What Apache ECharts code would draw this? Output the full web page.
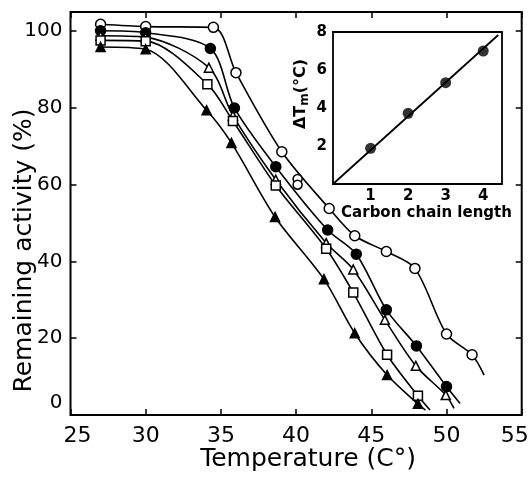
<!DOCTYPE html>
<html><head><meta charset="utf-8">
<script src="https://cdn.jsdelivr.net/npm/echarts@6/dist/echarts.min.js"></script>
<style>html,body{margin:0;padding:0;background:#fff}#c{width:528px;height:478px}</style>
</head><body><div id="c"></div>
<script>
// ---- data ----
const xTicks = [25, 30, 35, 40, 45, 50, 55];
const yTicks = [0, 20, 40, 60, 80, 100];
const openCircle = [[27,101.8],[30,101.2],[34.5,101.0],[36.0,89.2],[39.05,68.6],[42.2,53.8],[43.9,46.7],[46.0,42.6],[47.9,38.2],[50.0,21.1],[51.7,15.7]];
const openCircleTail = [[52.5,10.4]];
const filledCircle = [[27,100.1],[30,99.6],[34.3,95.5],[35.9,80.0],[38.65,64.7],[42.1,48.2],[44.0,41.9],[46.0,27.4],[48.0,18.0],[50.0,7.4]];
const filledCircleTail = [[50.9,3.0]];
const openTriangle = [[27,98.8],[30,98.4],[34.2,90.5],[35.8,78.0],[38.65,61.3],[42.0,44.8],[43.8,37.9],[45.9,24.8],[47.96,12.8],[49.95,5.2]];
const openTriangleTail = [[50.5,1.7]];
const openSquare = [[27,97.6],[30,97.4],[34.1,86.2],[35.8,76.6],[38.65,59.8],[42.0,43.3],[43.8,31.9],[46.05,15.7],[48.1,5.0]];
const openSquareTail = [[48.9,1.3]];
const filledTriangle = [[27,95.9],[30,95.3],[34.05,79.4],[35.7,70.9],[38.6,51.6],[41.85,35.4],[43.9,21.3],[46.05,10.4],[48.1,2.9]];
const filledTriangleTail = [[48.6,1.3]];
const extraOpenCircles = [[40.1,61.5],[40.1,60.0]];
const insetX = [1, 2, 3, 4];
const insetY = [1.88, 3.72, 5.33, 7.0];
const insetFit = [[0,0],[4.4,7.84]];
const insetXTicks = [1, 2, 3, 4];
const insetYTicks = [2, 4, 6, 8];

// ---- chart ----
const FONT = 'DejaVu Sans';
const chart = echarts.init(document.getElementById('c'), null, {renderer:'canvas'});
const curve = (d) => ({type:'line', xAxisIndex:0, yAxisIndex:0, data:d, smooth:0.3, showSymbol:false,
  lineStyle:{color:'#000', width:1.6}, silent:true, z:2});
const marks = (d, sym, filled, size) => ({type:'scatter', xAxisIndex:0, yAxisIndex:0, data:d, symbol:sym, symbolSize:size,
  itemStyle:{color: filled ? '#000' : '#fff', borderColor:'#000', borderWidth:1.5, opacity:1}, silent:true, z:3});
const tick = (len) => ({show:true, inside:true, length:len, lineStyle:{color:'#000', width:1.5}});
const noLine = {show:false, onZero:false};

const option = {
  animation:false,
  backgroundColor:'#fff',
  textStyle:{fontFamily:FONT},
  grid:[
    {left:70.5, right:6.3, top:12, bottom:63, show:true, borderColor:'#000', borderWidth:2, backgroundColor:'transparent', outerBoundsMode:'none', containLabel:false},
    {left:333, top:32, width:169, height:152, show:true, borderColor:'#000', borderWidth:1.8, backgroundColor:'#fff', z:1, outerBoundsMode:'none', containLabel:false}
  ],
  xAxis:[
    {gridIndex:0, type:'value', min:xTicks[0], max:xTicks[xTicks.length-1], interval:xTicks[1]-xTicks[0], position:'bottom',
     axisLine:noLine, splitLine:{show:false}, axisTick:tick(6),
     axisLabel:{color:'#000', fontSize:22, fontFamily:FONT, margin:10,
       formatter:(v)=> v===xTicks[0] ? '{a|'+v+'}' : (v===xTicks[xTicks.length-1] ? '{b|'+v+'}' : String(v)),
       rich:{a:{fontSize:22, fontFamily:FONT, color:'#000', padding:[0,0,0,14]}, b:{fontSize:22, fontFamily:FONT, color:'#000', padding:[0,14,0,0]}}},
     name:'Temperature (C°)', nameLocation:'middle', nameGap:32, nameMoveOverlap:false,
     nameTextStyle:{color:'#000', fontSize:25, fontFamily:FONT, padding:[0,0,0,24], verticalAlign:'top'}},
    {gridIndex:0, type:'value', min:xTicks[0], max:xTicks[xTicks.length-1], interval:xTicks[1]-xTicks[0], position:'top',
     axisLine:noLine, splitLine:{show:false}, axisLabel:{show:false}, axisTick:tick(6)},
    {gridIndex:1, type:'value', min:0, max:4.5, interval:1, position:'bottom',
     axisLine:noLine, splitLine:{show:false}, axisTick:{show:false},
     axisLabel:{color:'#000', fontSize:15, fontWeight:'bold', fontFamily:FONT, margin:5,
       formatter:(v)=> insetXTicks.includes(v) ? String(v) : ''},
     name:'Carbon chain length', nameLocation:'middle', nameGap:22,
     nameTextStyle:{color:'#000', fontSize:15, fontWeight:'bold', fontFamily:FONT, padding:[0,0,0,18]}}
  ],
  yAxis:[
    {gridIndex:0, type:'value', min:yTicks[0], max:105, interval:yTicks[1]-yTicks[0], position:'left',
     axisLine:noLine, splitLine:{show:false}, axisTick:tick(6),
     axisLabel:{color:'#000', fontSize:20, fontFamily:FONT, margin:8,
       formatter:(v)=> v===0 ? '{z|0}' : (yTicks.includes(v) ? String(v) : ''),
       rich:{z:{fontSize:20, fontFamily:FONT, color:'#000', padding:[0,0,24,0]}}},
     name:'Remaining activity (%)', nameLocation:'middle', nameGap:34, nameMoveOverlap:false,
     nameTextStyle:{color:'#000', fontSize:25, fontFamily:FONT, padding:[0,74,0,0]}},
    {gridIndex:0, type:'value', min:yTicks[0], max:105, interval:yTicks[1]-yTicks[0], position:'right',
     axisLine:noLine, splitLine:{show:false}, axisLabel:{show:false}, axisTick:tick(6)},
    {gridIndex:1, type:'value', min:0, max:8, interval:2, position:'left',
     axisLine:noLine, splitLine:{show:false}, axisTick:tick(5),
     axisLabel:{color:'#000', fontSize:15, fontWeight:'bold', fontFamily:FONT, margin:6,
       formatter:(v)=> insetYTicks.includes(v) ? String(v) : ''},
     name:'ΔT{s|m}(°C)', nameLocation:'middle', nameGap:22,
     nameTextStyle:{color:'#000', fontSize:16, fontWeight:'bold', fontFamily:FONT, padding:[0,0,0,28],
       rich:{s:{fontSize:12, fontWeight:'bold', fontFamily:FONT, color:'#000', padding:[8,0,0,0]}}}}
  ],
  series:[
    curve(openCircle.concat(openCircleTail)),
    curve(filledCircle.concat(filledCircleTail)),
    curve(openTriangle.concat(openTriangleTail)),
    curve(openSquare.concat(openSquareTail)),
    curve(filledTriangle.concat(filledTriangleTail)),
    marks(openCircle, 'circle', false, 10),
    marks(extraOpenCircles, 'circle', false, 9),
    marks(filledCircle, 'circle', true, 10),
    marks(openTriangle, 'triangle', false, 9),
    marks(openSquare, 'rect', false, 9),
    marks(filledTriangle, 'triangle', true, 9),
    {type:'line', xAxisIndex:2, yAxisIndex:2, data:insetFit, showSymbol:false, lineStyle:{color:'#000', width:1.8}, silent:true, z:4},
    {type:'scatter', xAxisIndex:2, yAxisIndex:2, data:insetX.map((x,i)=>[x, insetY[i]]), symbol:'circle', symbolSize:11,
     itemStyle:{color:'#000'}, silent:true, z:5}
  ]
};
chart.setOption(option);
</script></body></html>
